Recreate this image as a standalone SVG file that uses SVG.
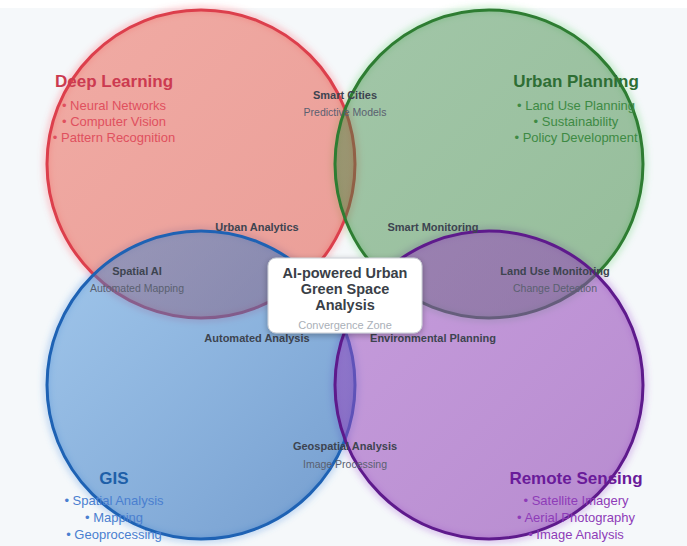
<svg xmlns="http://www.w3.org/2000/svg" width="687" height="546" viewBox="0 0 687 546">
<style>
text{font-family:"Liberation Sans",Arial,sans-serif;text-anchor:middle}
.title{font-size:17px;font-weight:bold}
.item{font-size:13px}
.ilabel{font-size:11px;font-weight:bold;fill:#3d4450}
.isub{font-size:10.5px;fill:#5a6070}
.ctitle{font-size:14.5px;font-weight:bold;fill:#3a3f48}
.csub{font-size:11px;fill:#aab0b8}
.circ{stroke-width:3}
.halo{fill:none;stroke-width:6;stroke-opacity:0.35}
</style>
<defs>
<linearGradient id="gR" x1="0" y1="0" x2="1" y2="1"><stop offset="0" stop-color="#ec5e4e" stop-opacity="0.5"/><stop offset="1" stop-color="#e04a3c" stop-opacity="0.52"/></linearGradient>
<linearGradient id="gG" x1="0" y1="0" x2="1" y2="1"><stop offset="0" stop-color="#3c8a44" stop-opacity="0.45"/><stop offset="1" stop-color="#2e7d32" stop-opacity="0.48"/></linearGradient>
<linearGradient id="gB" x1="0" y1="0" x2="1" y2="1"><stop offset="0" stop-color="#3a8ad8" stop-opacity="0.45"/><stop offset="1" stop-color="#1e5fb0" stop-opacity="0.6"/></linearGradient>
<linearGradient id="gP" x1="0" y1="0" x2="1" y2="1"><stop offset="0" stop-color="#9a48c0" stop-opacity="0.52"/><stop offset="1" stop-color="#8a3cb0" stop-opacity="0.58"/></linearGradient>
<filter id="blur" x="-10%" y="-10%" width="120%" height="120%"><feGaussianBlur stdDeviation="3"/></filter>
<filter id="shadow" x="-20%" y="-30%" width="140%" height="160%"><feGaussianBlur in="SourceAlpha" stdDeviation="3"/><feOffset dx="0" dy="2"/><feComponentTransfer><feFuncA type="linear" slope="0.3"/></feComponentTransfer><feMerge><feMergeNode/><feMergeNode in="SourceGraphic"/></feMerge></filter>
</defs>
<rect x="0" y="0" width="687" height="546" fill="#ffffff"/>
<rect x="0" y="8" width="687" height="538" fill="#f5f8fa"/>
<g id="halos" filter="url(#blur)">
<circle class="halo" cx="201" cy="164" r="155" stroke="#ff6070"/>
<circle class="halo" cx="489" cy="164" r="155" stroke="#60d070"/>
<circle class="halo" cx="201" cy="385" r="155" stroke="#5090e0"/>
<circle class="halo" cx="489" cy="385" r="155" stroke="#a050d0"/>
</g>
<g id="circles">
<g id="deep-learning-circle"><circle class="circ" cx="201" cy="164" r="154" fill="url(#gR)" stroke="#dc3f4c"/></g>
<g id="urban-planning-circle"><circle class="circ" cx="489" cy="164" r="154" fill="url(#gG)" stroke="#2e7d32"/></g>
<g id="gis-circle"><circle class="circ" cx="201" cy="385" r="154" fill="url(#gB)" stroke="#1e62b4"/></g>
<g id="remote-sensing-circle"><circle class="circ" cx="489" cy="385" r="154" fill="url(#gP)" stroke="#5e1a8c"/></g>
</g>
<g id="deep-learning">
<text class="title" x="114" y="87" fill="#cc3a50">Deep Learning</text>
<text class="item" x="114" y="110" fill="#e0505e">• Neural Networks</text>
<text class="item" x="114" y="126" fill="#e0505e">• Computer Vision</text>
<text class="item" x="114" y="142" fill="#e0505e">• Pattern Recognition</text>
</g>
<g id="urban-planning">
<text class="title" x="576" y="87" fill="#2e6e34">Urban Planning</text>
<text class="item" x="576" y="110" fill="#3e8a44">• Land Use Planning</text>
<text class="item" x="576" y="126" fill="#3e8a44">• Sustainability</text>
<text class="item" x="576" y="142" fill="#3e8a44">• Policy Development</text>
</g>
<g id="gis">
<text class="title" x="114" y="484" fill="#1e5fa8">GIS</text>
<text class="item" x="114" y="505" fill="#4a7fd0">• Spatial Analysis</text>
<text class="item" x="114" y="522" fill="#4a7fd0">• Mapping</text>
<text class="item" x="114" y="539" fill="#4a7fd0">• Geoprocessing</text>
</g>
<g id="remote-sensing">
<text class="title" x="576" y="484" fill="#6a1b9a">Remote Sensing</text>
<text class="item" x="576" y="505" fill="#8e3cb8">• Satellite Imagery</text>
<text class="item" x="576" y="522" fill="#8e3cb8">• Aerial Photography</text>
<text class="item" x="576" y="539" fill="#8e3cb8">• Image Analysis</text>
</g>
<g id="smart-cities"><text class="ilabel" x="345" y="99">Smart Cities</text><text class="isub" x="345" y="116">Predictive Models</text></g>
<g id="urban-analytics"><text class="ilabel" x="257" y="231">Urban Analytics</text></g>
<g id="smart-monitoring"><text class="ilabel" x="433" y="231">Smart Monitoring</text></g>
<g id="spatial-ai"><text class="ilabel" x="137" y="275">Spatial AI</text><text class="isub" x="137" y="292">Automated Mapping</text></g>
<g id="land-use-monitoring"><text class="ilabel" x="555" y="275">Land Use Monitoring</text><text class="isub" x="555" y="292">Change Detection</text></g>
<g id="automated-analysis"><text class="ilabel" x="257" y="342">Automated Analysis</text></g>
<g id="environmental-planning"><text class="ilabel" x="433" y="342">Environmental Planning</text></g>
<g id="geospatial-analysis"><text class="ilabel" x="345" y="450">Geospatial Analysis</text><text class="isub" x="345" y="468">Image Processing</text></g>
<g id="center">
<rect x="268" y="258" width="154" height="75" rx="8" fill="#ffffff" stroke="#c8ccd2" stroke-width="1" filter="url(#shadow)"/>
<text class="ctitle" x="345" y="278">AI-powered Urban</text>
<text class="ctitle" x="345" y="294">Green Space</text>
<text class="ctitle" x="345" y="310">Analysis</text>
<text class="csub" x="345" y="329">Convergence Zone</text>
</g>
<g id="connectors"></g>
</svg>
